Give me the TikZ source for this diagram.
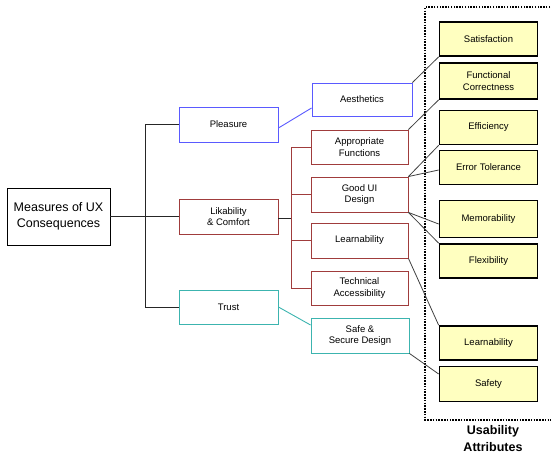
\documentclass[tikz,border=0pt]{standalone}
\usepackage{fontspec}
\setmainfont{Liberation Sans}
\begin{document}
\begin{tikzpicture}[x=1pt,y=-1pt,
  every node/.style={font=\fontsize{9.5}{11.5}\selectfont, align=center, inner sep=0pt},
  boxbase/.style={draw, line width=0.9pt, minimum height=34pt},
  bluebox/.style={boxbase, draw=pblue, minimum width=99pt},
  redbox/.style={boxbase, draw=lred, minimum width=97pt},
  tealbox/.style={boxbase, draw=tteal, minimum width=98pt},
  attrbox/.style={draw=black, line width=1.7pt, fill=attrfill, minimum width=98pt, minimum height=34pt},
  link/.style={draw=linkgray, line width=0.8pt},
  trunkline/.style={draw=black!85, line width=0.9pt}]
\definecolor{pblue}{RGB}{90,90,255}
\definecolor{lred}{RGB}{160,60,60}
\definecolor{tteal}{RGB}{60,180,175}
\definecolor{attrfill}{RGB}{255,255,192}
\definecolor{linkgray}{RGB}{64,64,64}
\useasboundingbox (0,0) rectangle (551,455);

% root
\node[draw, line width=0.9pt, minimum width=103pt, minimum height=57pt,
      font=\fontsize{12.5}{16}\selectfont] (main) at (58.5,216.5) {Measures of UX\\Consequences};

% first level
\node[bluebox, minimum height=35pt] (pleasure) at (228.5,124.5) {Pleasure};
\node[redbox, minimum width=99pt, minimum height=35pt] (likability) at (228.5,216.5) {Likability\\\& Comfort};
\node[tealbox, minimum width=99pt] (trust) at (228.5,307) {Trust};

% second level
\node[bluebox, minimum width=100pt, minimum height=33pt] (aesthetics) at (362,99.5) {Aesthetics};
\node[redbox] (appfun) at (359.5,147) {Appropriate\\Functions};
\node[redbox, minimum height=35pt] (goodui) at (359.5,194.5) {Good UI\\Design};
\node[redbox, minimum height=35pt] (learn) at (359.5,240.5) {Learnability};
\node[redbox] (techacc) at (359.5,288) {Technical\\Accessibility};
\node[tealbox, minimum height=35pt] (safe) at (360,335.5) {Safe \&\\Secure Design};

% usability attributes
\node[attrbox] (satisf) at (488.5,39) {Satisfaction};
\node[attrbox, minimum height=36pt] (funcorr) at (488.5,81) {Functional\\Correctness};
\node[attrbox] (effic) at (488.5,127.5) {Efficiency};
\node[attrbox] (errtol) at (488.5,167.5) {Error Tolerance};
\node[attrbox, minimum height=37pt] (memor) at (488.5,219) {Memorability};
\node[attrbox] (flex) at (488.5,261) {Flexibility};
\node[attrbox] (learnattr) at (488.5,343) {Learnability};
\node[attrbox, minimum height=35pt] (safety) at (488.5,384) {Safety};

% dotted frame, open to the right
\draw[line width=1.9pt, dash pattern=on 1.5pt off 1.3pt] (553,7) -- (425,7) -- (425,420) -- (553,420);
\node[font=\bfseries\fontsize{12.5}{16.5}\selectfont] (usab) at (493,438.5) {Usability\\Attributes};

% main trunk
\coordinate (trunk) at (145,216.5);
\draw[trunkline] (main.east) -- (likability.west);
\draw[trunkline] (pleasure.west) -- (pleasure.west -| trunk) -- (trust.west -| trunk) -- (trust.west);

% pleasure and trust branches
\draw[draw=pblue, line width=0.9pt] ([yshift=-3.5pt]pleasure.east) -- ([yshift=-8.5pt]aesthetics.west);
\draw[draw=tteal, line width=0.9pt] (trust.east) -- ([yshift=10.5pt]safe.west);

% likability branches
\coordinate (subtrunk) at (291,218);
\draw[trunkline] (likability.east |- subtrunk) -- (subtrunk);
\draw[draw=lred, line width=0.9pt] (appfun.west) -- (appfun.west -| subtrunk) -- (techacc.west -| subtrunk) -- (techacc.west);
\draw[draw=lred, line width=0.9pt] (goodui.west) -- (goodui.west -| subtrunk);
\draw[draw=lred, line width=0.9pt] (learn.west) -- (learn.west -| subtrunk);

% links to the usability attributes
\draw[link] (aesthetics.north east) -- (satisf.south west);
\draw[link] (appfun.north east) -- (funcorr.south west);
\draw[link] (goodui.north east) -- (effic.south west);
\draw[link] (goodui.north east) -- ([yshift=-2.5pt]errtol.west);
\draw[link] (goodui.south east) -- ([yshift=-5pt]memor.west);
\draw[link] (goodui.south east) -- (flex.north west);
\draw[link] (learn.south east) -- (learnattr.north west);
\draw[link] (safe.south east) -- ([yshift=10pt]safety.west);
\end{tikzpicture}
\end{document}
